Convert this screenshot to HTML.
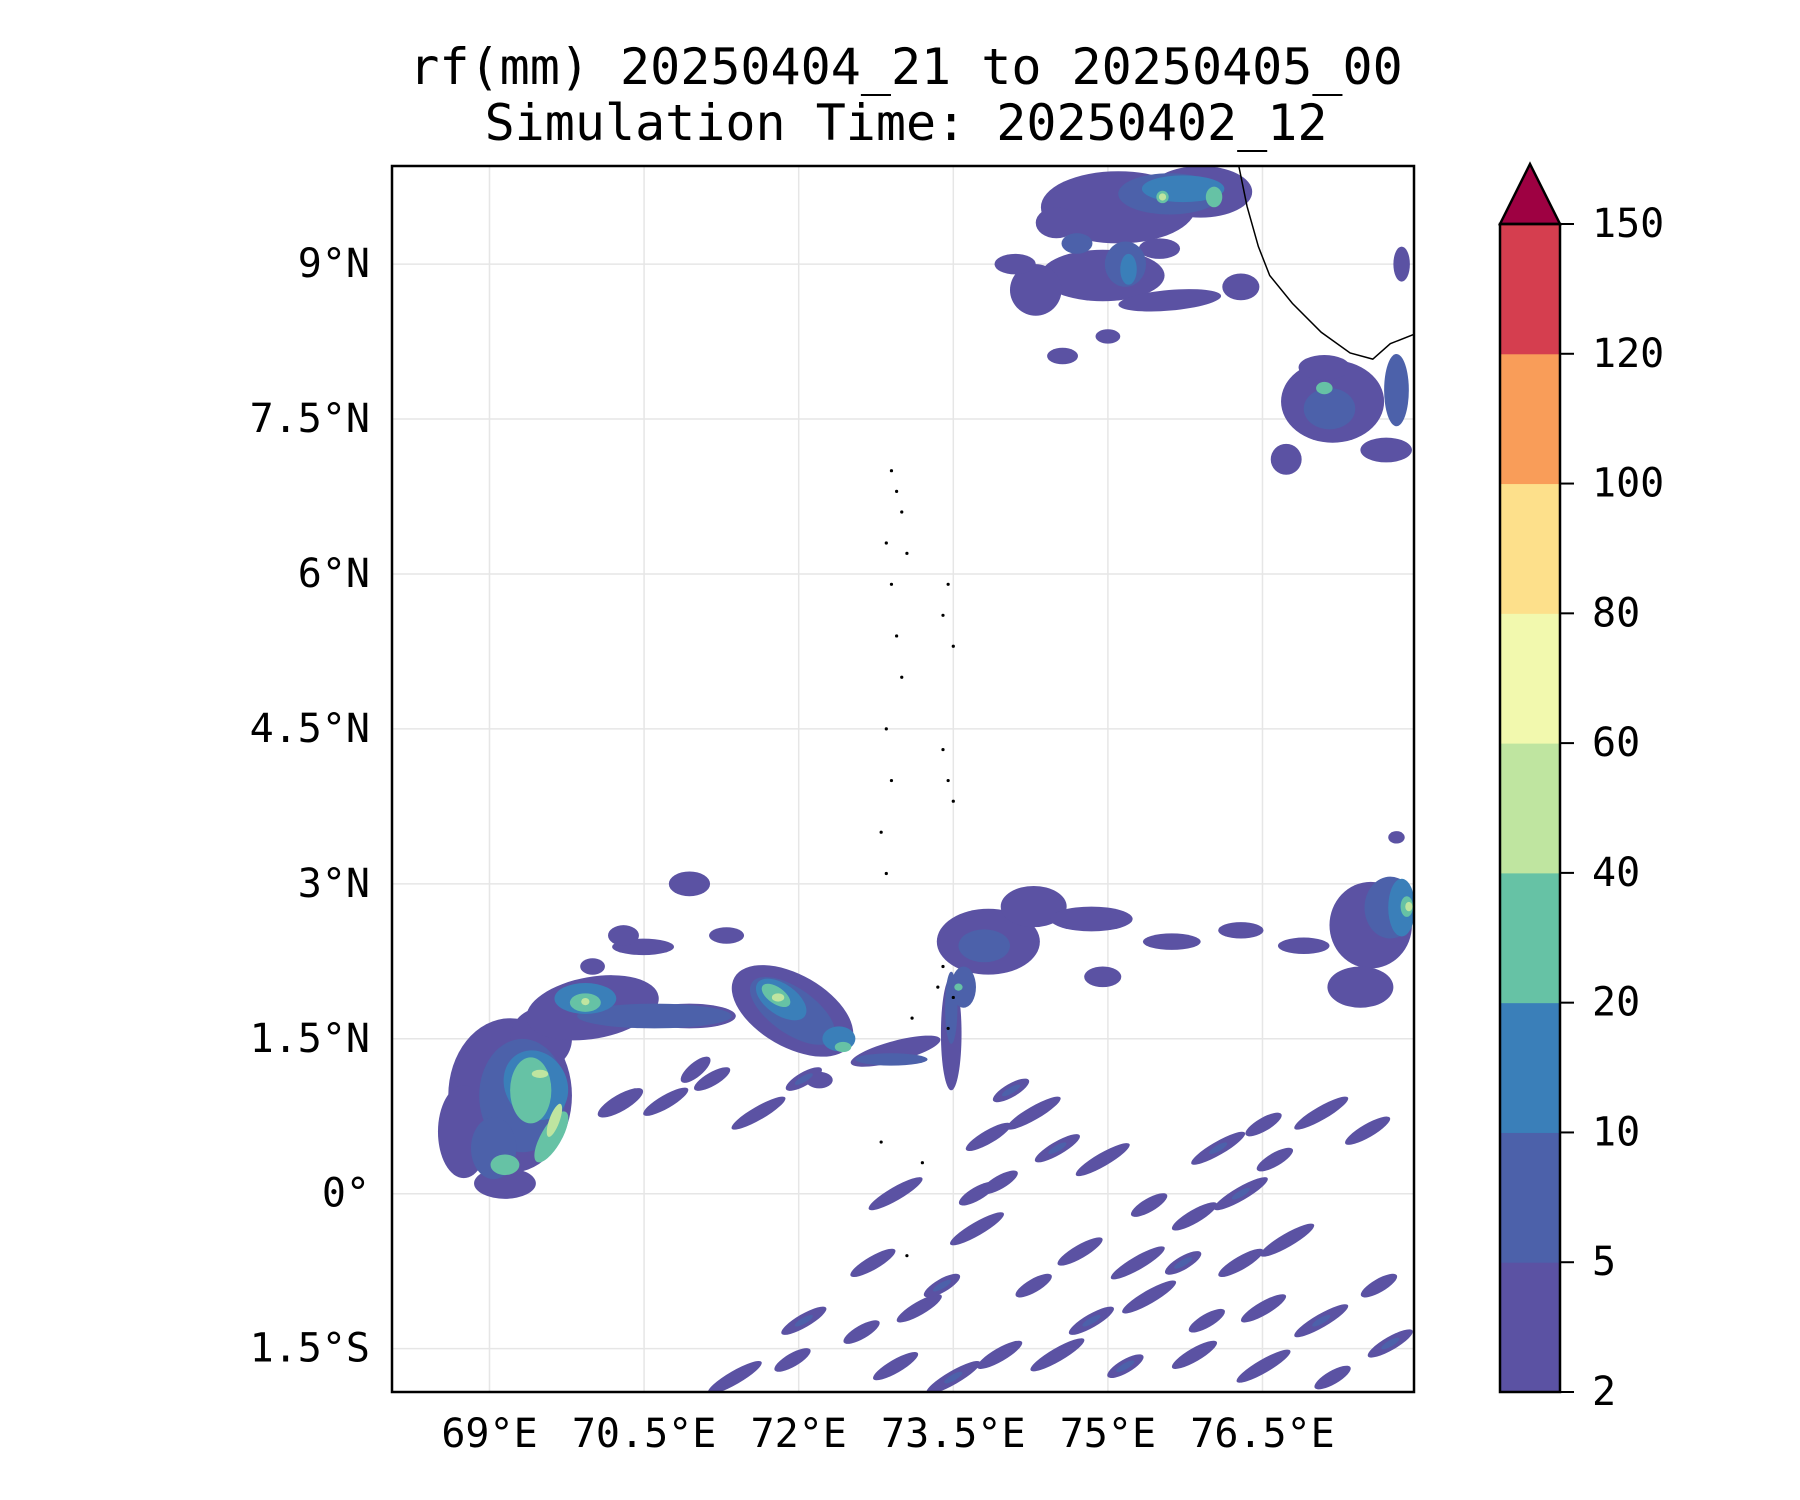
<!DOCTYPE html>
<html><head><meta charset="utf-8"><style>
html,body{margin:0;padding:0;background:#fff;}
svg{display:block;}
text{font-family:"DejaVu Sans Mono","Liberation Mono",monospace;fill:#000;}
</style></head><body>
<svg id="chart" width="1800" height="1500" viewBox="0 0 1800 1500" xmlns="http://www.w3.org/2000/svg">
<text x="906" y="84" font-size="50" text-anchor="middle">rf(mm) 20250404_21 to 20250405_00</text>
<text x="906" y="140" font-size="50" text-anchor="middle">Simulation Time: 20250402_12</text>
<defs><clipPath id="mapclip"><rect x="392" y="166" width="1022" height="1226"/></clipPath></defs>
<g id="grid"></g>
<g id="rain" clip-path="url(#mapclip)"></g>
<g id="land" clip-path="url(#mapclip)"></g>
<rect x="392" y="166" width="1022" height="1226" fill="none" stroke="#000" stroke-width="2.5"/>
<g id="axes"></g>
<g id="cbar"></g>
</svg>
<script>
const lonTicks=[69,70.5,72,73.5,75,76.5];
const lonTickLabels=["69°E","70.5°E","72°E","73.5°E","75°E","76.5°E"];
const latTicks=[9,7.5,6,4.5,3,1.5,0,-1.5];
const latTickLabels=["9°N","7.5°N","6°N","4.5°N","3°N","1.5°N","0°","1.5°S"];
const levels=[2,5,10,20,40,60,80,100,120,150];
const levelColors=["#5b52a3","#4c61aa","#3a7fb9","#66c2a5","#bfe5a0","#f2f9ae","#fde08b","#f99d59","#d53e4f"];
const extendColor="#9e0142";
// blobs: [lon, lat, rxDeg, ryDeg, rotationDeg, levelIndex]
const blobsNE=[[75.1,9.55,0.75,0.35,0,0],[75.9,9.7,0.5,0.25,0,0],[74.95,8.89,0.6,0.25,0,0],[74.3,8.75,0.25,0.25,0,0],[75.6,8.65,0.5,0.1,-5,0],[76.29,8.78,0.18,0.13,0,0],[74.56,8.11,0.15,0.08,0,0],[74.1,9.0,0.2,0.1,0,0],[75.0,8.3,0.12,0.07,0,0],[74.5,9.4,0.2,0.15,0,0],[75.5,9.15,0.2,0.1,0,0],
[75.6,9.68,0.5,0.2,0,1],[75.17,9.0,0.2,0.22,0,1],[74.7,9.2,0.15,0.1,0,1],[75.73,9.73,0.4,0.13,0,2],[75.2,8.95,0.08,0.15,0,2],[76.03,9.65,0.08,0.1,0,3],[75.53,9.65,0.06,0.06,0,3],[75.53,9.65,0.035,0.035,0,4]];
const blobsRight=[[77.18,7.67,0.5,0.4,0,0],[76.73,7.11,0.15,0.15,0,0],[77.85,9.0,0.08,0.17,0,0],[77.7,7.2,0.25,0.12,0,0],[77.1,8.0,0.25,0.12,0,0],[77.15,7.6,0.25,0.2,0,1],[77.8,7.78,0.12,0.35,0,1],[77.1,7.8,0.08,0.06,0,3]];
const blobsEast=[[77.55,2.6,0.4,0.42,0,0],[77.45,2.0,0.32,0.2,0,0],[77.8,3.45,0.08,0.06,0,0],[76.9,2.4,0.25,0.08,0,0],[77.74,2.77,0.25,0.3,0,1],[77.85,2.77,0.13,0.28,0,2],[77.9,2.78,0.06,0.1,0,3],[77.92,2.78,0.035,0.045,0,4]];
const blobsSW=[[69.2,0.95,0.6,0.75,0,0],[68.75,0.6,0.25,0.45,0,0],[69.15,0.1,0.3,0.15,0,0],[69.5,1.5,0.3,0.3,0,0],[69.32,0.95,0.42,0.55,0,1],[69.04,0.44,0.22,0.3,0,1],[69.45,1.05,0.3,0.35,-30,2],[69.4,1.0,0.2,0.32,0,3],[69.6,0.55,0.1,0.28,30,3],[69.15,0.28,0.14,0.1,0,3],[69.63,0.71,0.05,0.17,20,4],[69.49,1.16,0.08,0.04,0,4]];
const blobsBand=[[70.0,1.8,0.65,0.3,-10,0],[70.94,1.72,0.45,0.12,0,0],[70.49,2.39,0.3,0.08,0,0],[70.94,3.0,0.2,0.12,0,0],[70.3,2.5,0.15,0.1,0,0],[70.6,1.72,0.75,0.12,0,1],[69.93,1.89,0.3,0.15,0,2],[69.93,1.85,0.15,0.09,0,3],[69.93,1.86,0.04,0.035,0,4],
[71.94,1.77,0.65,0.35,30,0],[71.94,1.77,0.48,0.22,35,1],[71.83,1.88,0.28,0.15,35,2],[71.78,1.92,0.16,0.08,35,3],[71.8,1.9,0.06,0.04,0,4],[72.39,1.5,0.16,0.12,0,2],[72.43,1.42,0.08,0.05,0,3],
[72.94,1.38,0.45,0.1,-15,0],[72.9,1.3,0.35,0.06,0,1],[73.48,1.55,0.1,0.55,0,0],[73.48,1.8,0.06,0.35,0,1],
[73.84,2.44,0.5,0.32,0,0],[74.28,2.78,0.32,0.2,0,0],[74.84,2.66,0.4,0.12,0,0],[74.95,2.1,0.18,0.1,0,0],[75.62,2.44,0.28,0.08,0,0],[76.29,2.55,0.22,0.08,0,0],[73.8,2.4,0.25,0.16,0,1],[73.6,2.0,0.12,0.2,0,1],[73.55,2.0,0.04,0.035,0,3],
[70.27,0.88,0.25,0.08,-30,0],[71.0,1.2,0.18,0.07,-40,0],[72.2,1.1,0.13,0.08,0,0],[71.3,2.5,0.17,0.08,0,0],[70.0,2.2,0.12,0.08,0,0]];
const streaks=[[74.06,1.0],[73.84,0.55],[74.28,0.78],[73.95,0.11],[74.51,0.44],[74.95,0.33],[75.4,-0.11],[75.84,-0.22],[76.29,0],[76.62,0.33],[74.73,-0.56],[75.29,-0.67],[75.73,-0.67],[76.29,-0.67],[76.74,-0.45],[74.28,-0.89],[74.84,-1.23],[75.4,-1.0],[75.96,-1.23],[76.51,-1.11],[77.07,-1.23],[77.63,-0.89],[73.95,-1.56],[74.51,-1.56],[75.17,-1.67],[75.84,-1.56],[76.51,-1.67],[77.18,-1.78],[77.74,-1.45],[71.38,-1.78],[71.94,-1.61],[72.94,-1.67],[73.5,-1.78],[72.61,-1.34],[73.17,-1.11],[73.73,-0.34],[73.39,-0.89],[72.72,-0.67],[72.94,0],[73.73,0],[72.05,-1.23],[77.07,0.78],[76.51,0.67],[77.52,0.61],[76.07,0.44],[71.16,1.11],[70.71,0.89],[71.61,0.78],[72.05,1.11]];
const coastLon=[76.27,76.35,76.46,76.57,76.79,77.07,77.35,77.57,77.74,77.97];
const coastLat=[9.95,9.56,9.17,8.89,8.62,8.34,8.14,8.08,8.23,8.32];
const islandLon=[72.9,72.95,73.0,72.85,73.05,72.9,73.45,73.4,72.95,73.0,73.5,73.4,72.85,72.9,73.45,73.5,72.8,72.85,73.4,73.35,73.1,73.5,73.45,72.8,73.2,73.05];
const islandLat=[7.0,6.8,6.6,6.3,6.2,5.9,5.9,5.6,5.4,5.0,5.3,4.3,4.5,4.0,4.0,3.8,3.5,3.1,2.2,2.0,1.7,1.9,1.6,0.5,0.3,-0.6];

const X0=392,X1=1414,Y0=166,Y1=1392,LON0=68.054,LON1=77.97,LAT0=9.95,LAT1=-1.92;
const xs=l=>X0+(l-LON0)/(LON1-LON0)*(X1-X0);
const ys=l=>Y0+(l-LAT0)/(LAT1-LAT0)*(Y1-Y0);
const pxDeg=(X1-X0)/(LON1-LON0);
const NS="http://www.w3.org/2000/svg";
function mk(tag,attrs,parent){const e=document.createElementNS(NS,tag);for(const k in attrs)e.setAttribute(k,attrs[k]);parent.appendChild(e);return e;}
const grid=document.getElementById('grid'),rain=document.getElementById('rain'),land=document.getElementById('land'),axes=document.getElementById('axes'),cbar=document.getElementById('cbar');
lonTicks.forEach((t,i)=>{const l=mk('line',{x1:xs(t),x2:xs(t),y1:Y0,y2:Y1,stroke:'#e6e6e6','stroke-width':1.5},grid);


const tx=mk('text',{x:xs(t),y:1434,'font-size':40,'text-anchor':'middle','dominant-baseline':'central'},axes);tx.textContent=lonTickLabels[i];

});
latTicks.forEach((t,i)=>{const l=mk('line',{x1:X0,x2:X1,y1:ys(t),y2:ys(t),stroke:'#e6e6e6','stroke-width':1.5},grid);


const tx=mk('text',{x:370,y:ys(t),'font-size':40,'text-anchor':'end','dominant-baseline':'central'},axes);tx.textContent=latTickLabels[i];

});
const all=[].concat(blobsNE,blobsRight,blobsEast,blobsSW,blobsBand);
streaks.forEach((s,i)=>all.push([s[0],s[1],0.2+(i%3)*0.05,0.065,-30,0]));
streaks.forEach((s,i)=>{if(i%4===0)all.push([s[0],s[1],0.1,0.03,-30,1]);});
all.sort((a,b)=>a[5]-b[5]);
all.forEach(b=>{const e=mk('ellipse',{cx:xs(b[0]),cy:ys(b[1]),rx:b[2]*pxDeg,ry:b[3]*pxDeg,fill:levelColors[b[5]],transform:`rotate(${b[4]} ${xs(b[0])} ${ys(b[1])})`},rain);

});
const cp=mk('polyline',{points:coastLon.map((l,i)=>xs(l)+','+ys(coastLat[i])).join(' '),fill:'none',stroke:'#000','stroke-width':1.5},land);


islandLon.forEach((l,i)=>{const c=mk('circle',{cx:xs(l),cy:ys(islandLat[i]),r:1.6,fill:'#000'},land);

});
const CX=1500,CW=60,CT=224,CB=1392,n=levelColors.length,seg=(CB-CT)/n;
levelColors.forEach((c,i)=>{const r=mk('rect',{x:CX,y:CB-(i+1)*seg,width:CW,height:seg+0.5,fill:c},cbar);

});
const tri=mk('polygon',{points:`${CX},${CT} ${CX+CW/2},${CT-60} ${CX+CW},${CT}`,fill:extendColor,stroke:'#000','stroke-width':2.5},cbar);


const fr=mk('polygon',{points:`${CX},${CB} ${CX},${CT} ${CX+CW},${CT} ${CX+CW},${CB}`,fill:'none',stroke:'#000','stroke-width':2.5},cbar);


levels.forEach((v,i)=>{const y=CB-i*seg;const tk=mk('line',{x1:CX+CW,x2:CX+CW+14,y1:y,y2:y,stroke:'#000','stroke-width':2},cbar);


const t=mk('text',{x:1592,y:y,'font-size':40,'dominant-baseline':'central'},cbar);t.textContent=v;

});
</script>
</body></html>
